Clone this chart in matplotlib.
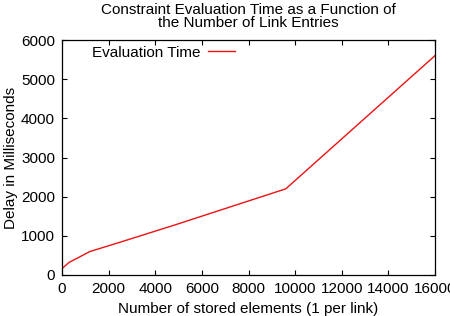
import matplotlib
matplotlib.use("Agg")
import matplotlib.pyplot as plt

elements = [50, 300, 1200, 2400, 4800, 9600, 16000]
delay_ms = [190, 320, 600, 820, 1270, 2200, 5600]
series_name = "Evaluation Time"
title = "Constraint Evaluation Time as a Function of\nthe Number of Link Entries"
xlabel = "Number of stored elements (1 per link)"
ylabel = "Delay in Milliseconds"
xticks = list(range(0, 16001, 2000))
yticks = list(range(0, 6001, 1000))

plt.rcParams['font.family'] = ['Liberation Sans', 'DejaVu Sans']
plt.rcParams['font.size'] = 11

fig = plt.figure(figsize=(4.5, 3.16), dpi=100)
ax = fig.add_axes([62/450, 41/316, 373/450, 235/316])
ax.plot(elements, delay_ms, color='#ee1111', lw=1.0, label=series_name)
ax.set_xlim(0, 16000)
ax.set_ylim(0, 6000)
ax.set_xticks(xticks)
ax.set_yticks(yticks)
ax.tick_params(direction='in', top=True, right=True, length=3.5, width=0.8, labelsize=11, pad=5)
for s in ax.spines.values():
    s.set_linewidth(0.9)
ax.set_xlabel(xlabel, fontsize=11, labelpad=4)
ax.set_ylabel(ylabel, fontsize=11, labelpad=2)
ax.set_title(title, fontsize=11, pad=9.5, linespacing=0.85)
ax.legend(loc='upper left', bbox_to_anchor=(0.044, 1.035), frameon=False, markerfirst=False,
          handlelength=1.75, handletextpad=0.5, fontsize=11)
fig.savefig("out.png", dpi=100)
